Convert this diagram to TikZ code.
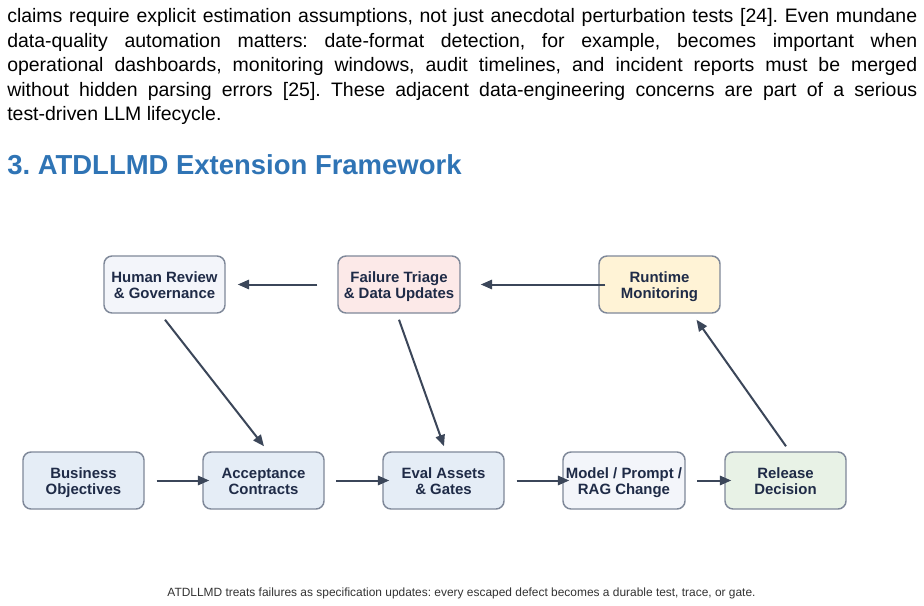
\documentclass[tikz,border=0pt]{standalone}
\usepackage{fontspec}
\setmainfont{Liberation Sans}
\usetikzlibrary{arrows.meta,calc}
\frenchspacing
\definecolor{boxborder}{HTML}{7F8899}
\definecolor{fillblue}{HTML}{E5EDF6}
\definecolor{filllight}{HTML}{F3F5FA}
\definecolor{fillpink}{HTML}{FCE9E8}
\definecolor{fillyellow}{HTML}{FFF3D6}
\definecolor{fillgreen}{HTML}{E8F2E6}
\definecolor{boxtext}{HTML}{1F2B47}
\definecolor{arrowcol}{HTML}{3B4659}
\definecolor{titleblue}{HTML}{2F74B5}
\definecolor{captiongray}{HTML}{333333}
\begin{document}
\frenchspacing
\begin{tikzpicture}[x=0.75pt,y=-0.75pt,
  stepbox/.style={draw=boxborder,line width=1.1pt,rounded corners=6pt,
    minimum width=90.75pt,minimum height=42.75pt,inner sep=0pt,align=center,
    text height=20.7pt,text depth=0pt,
    text=boxtext,font=\fontsize{11.2}{12}\selectfont\bfseries},
  flow/.style={draw=arrowcol,line width=1.5pt,-{Triangle[length=8.5pt,width=7pt]}},
  bodyline/.style={anchor=base west,inner sep=0pt,font=\fontsize{14.6}{18.4}\selectfont\frenchspacing,text=black}]
\useasboundingbox[fill=white] (0,0) rectangle (924,606);
% body text
\node[bodyline] (l1) at (7,23) {\makebox[682.5pt][s]{claims require explicit estimation assumptions, not just anecdotal perturbation tests [24]. Even mundane}};
\node[bodyline] (l2) at (7,47.5) {\makebox[682.5pt][s]{data-quality automation matters: date-format detection, for example, becomes important when}};
\node[bodyline] (l3) at (7,72) {\makebox[682.5pt][s]{operational dashboards, monitoring windows, audit timelines, and incident reports must be merged}};
\node[bodyline] (l4) at (7,96.5) {\makebox[682.5pt][s]{without hidden parsing errors [25]. These adjacent data-engineering concerns are part of a serious}};
\node[bodyline] (l5) at (7,121) {test-driven LLM lifecycle.};
% title
\node[anchor=base west,inner sep=0pt,text=titleblue,font=\fontsize{20.6}{24}\selectfont\bfseries\frenchspacing] (title) at (7,175) {3. ATDLLMD Extension Framework};
% boxes
\node[stepbox,fill=filllight] (hr) at (164.5,284.5) {Human Review\\\& Governance};
\node[stepbox,fill=fillpink,minimum width=91.5pt] (ft) at (399,284.5) {Failure Triage\\\& Data Updates};
\node[stepbox,fill=fillyellow] (rm) at (659.5,284.5) {Runtime\\Monitoring};
\node[stepbox,fill=fillblue] (bo) at (83.5,480.5) {Business\\Objectives};
\node[stepbox,fill=fillblue] (ac) at (263.5,480.5) {Acceptance\\Contracts};
\node[stepbox,fill=fillblue] (ea) at (443.5,480.5) {Eval Assets\\\& Gates};
\node[stepbox,fill=filllight,minimum width=91.5pt] (mp) at (624,480.5) {Model / Prompt /\\RAG Change};
\node[stepbox,fill=fillgreen] (rd) at (785.5,480.5) {Release\\Decision};
% connectors
\draw[flow,shorten <=15pt,shorten >=9pt] (ft.west) -- (hr.east);
\draw[flow,shorten <=-5.25pt,shorten >=15pt] (rm.west) -- (ft.east);
\draw[flow] ($(hr.south)+(0.5,6)$) -- ($(ac.north)+(0.5,-5)$);
\draw[flow] ($(ft.south)+(0,6)$) -- ($(ea.north)+(0.5,-5)$);
\draw[flow] ($(rd.north)+(0.5,-5)$) -- ($(rm.south)+(37,6)$);
\draw[flow,shorten <=9pt,shorten >=-5.25pt] (bo.east) -- (ac.west);
\draw[flow,shorten <=8.5pt,shorten >=-5.25pt] (ac.east) -- (ea.west);
\draw[flow,shorten <=9pt,shorten >=-5.25pt] (ea.east) -- (mp.west);
\draw[flow,shorten <=8.5pt,shorten >=-5.25pt] (mp.east) -- (rd.west);
% caption
\node[anchor=base,inner sep=0pt,text=captiongray,font=\fontsize{8.95}{10}\selectfont\frenchspacing] (cap) at (461.5,596) {ATDLLMD treats failures as specification updates: every escaped defect becomes a durable test, trace, or gate.};
\end{tikzpicture}
\end{document}
